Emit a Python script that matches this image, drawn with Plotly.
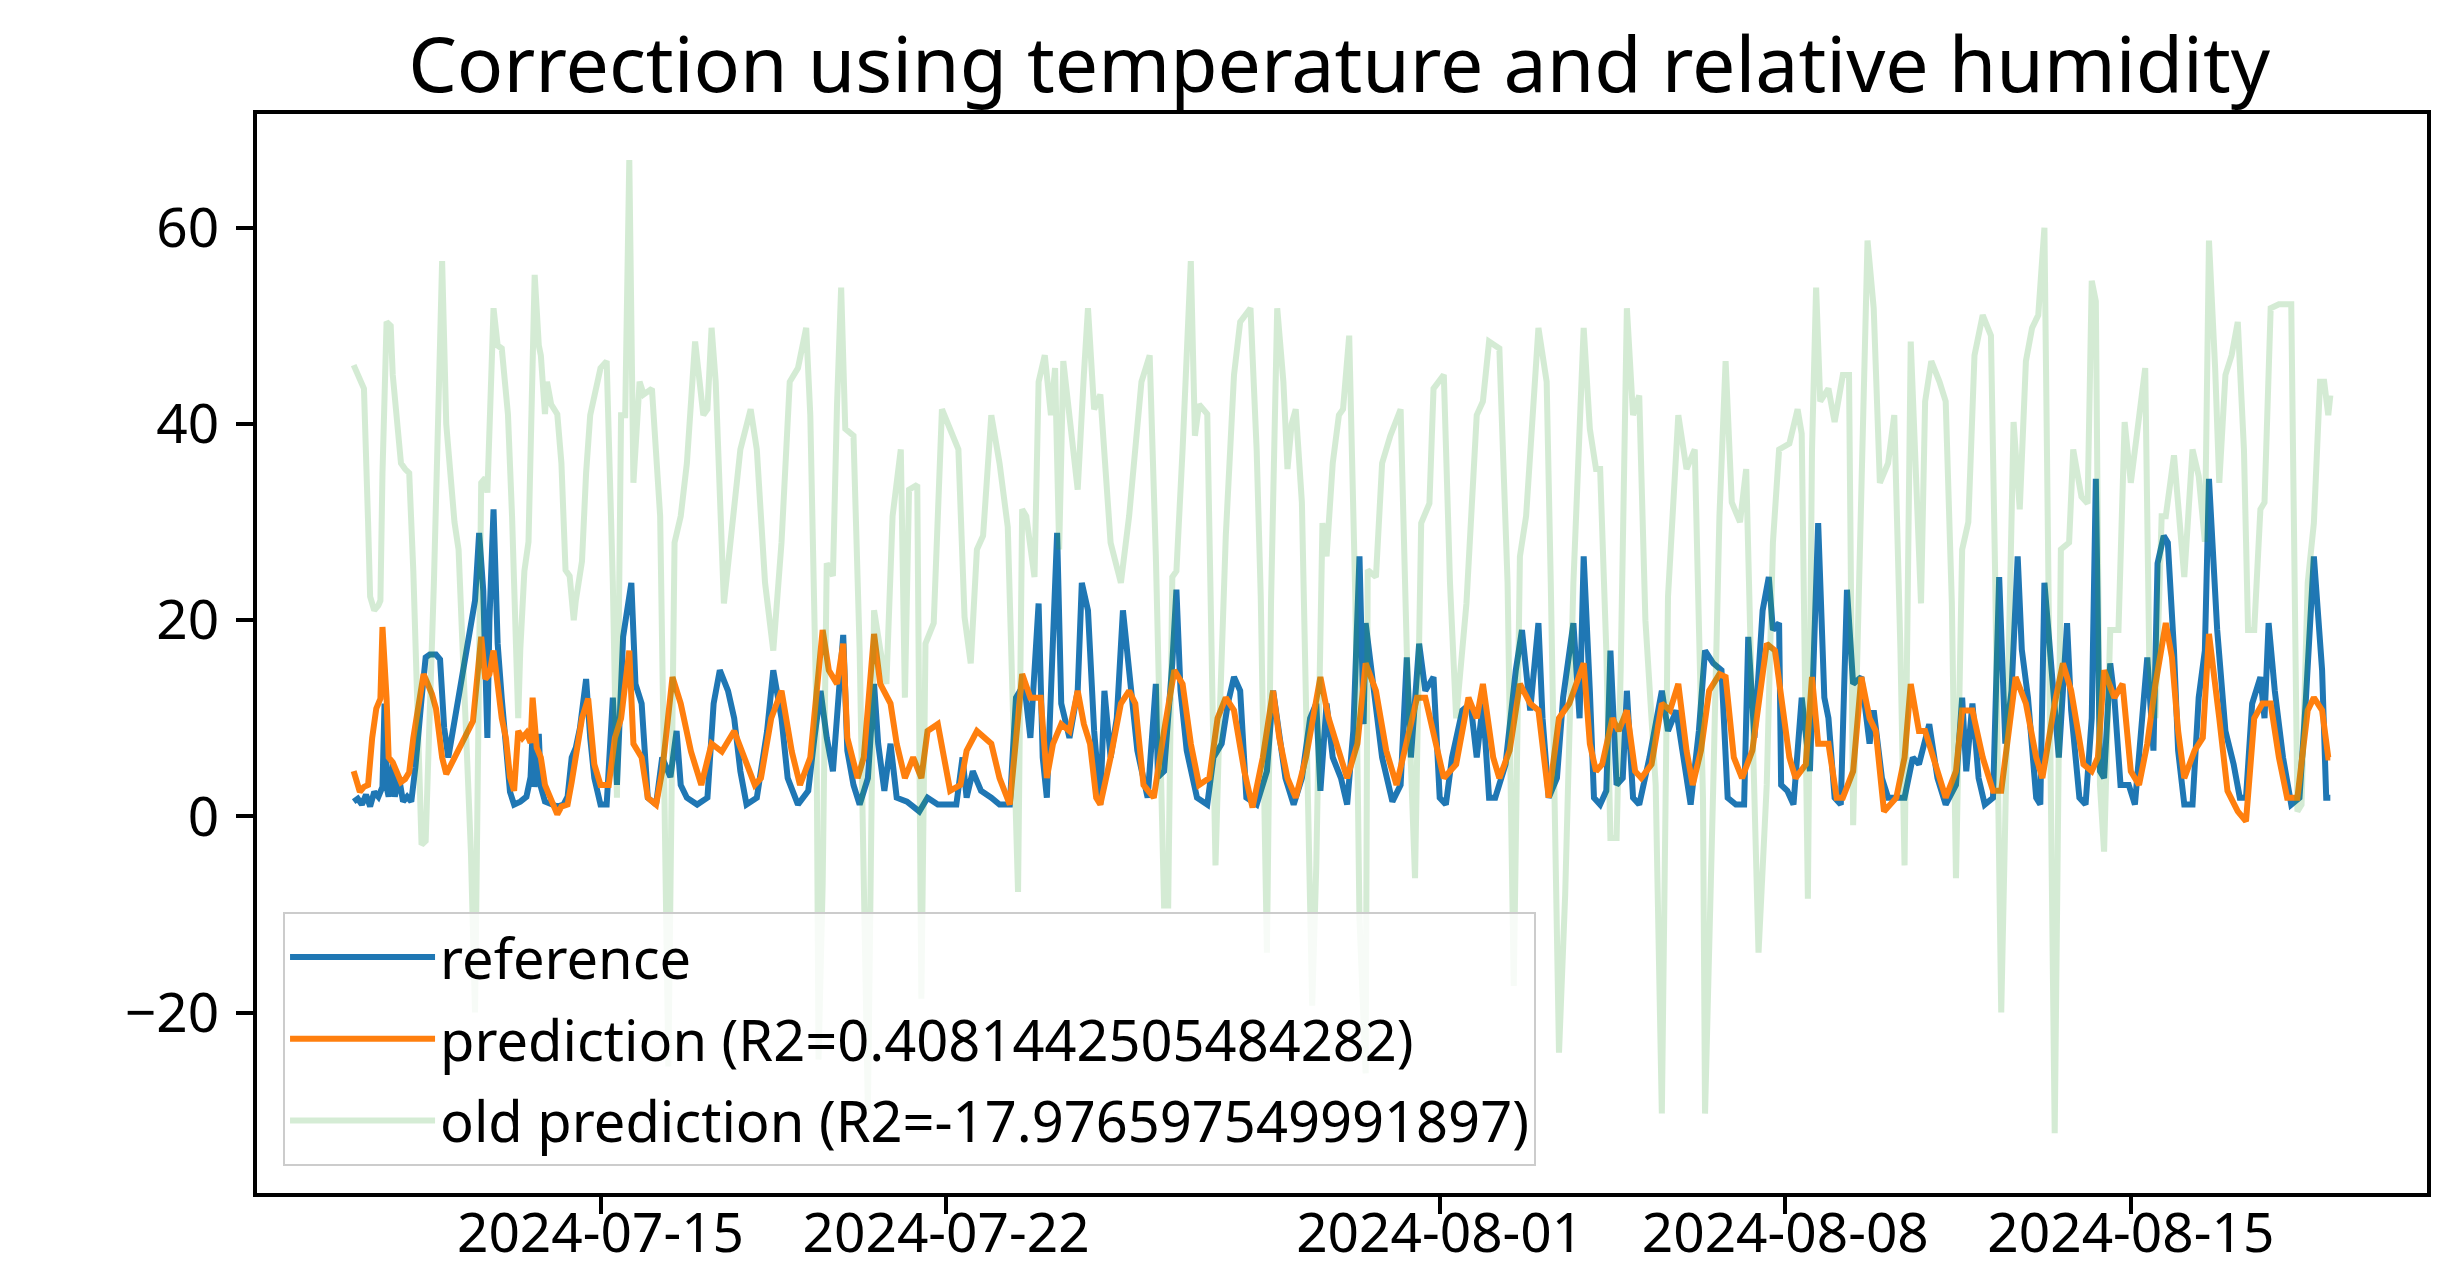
import pandas as pd
import plotly.graph_objects as go

START = "2024-07-10 00:00"

# ---- reference (hours since START, value) ----
ref_hours = [0, 2, 4, 6, 8, 10, 12, 14, 15, 16, 17, 19, 20, 22, 24, 26, 28, 30, 33, 35, 37, 40, 42, 44, 46,
             59, 61, 63, 65, 66, 68, 70, 72, 74, 76, 78, 81, 84, 86, 87, 88, 90, 91, 93, 96, 99, 102, 104, 106,
             108, 110, 113, 115, 117, 120, 123, 126, 128, 131, 135, 137, 140, 143, 147, 150, 154, 157, 159, 162,
             167, 172, 175, 178, 182, 185, 188, 191, 196, 201, 204, 208, 211, 216, 221, 224, 227, 230, 233, 238,
             240, 243, 246, 250, 253, 255, 258, 261, 264, 269, 275, 279, 284, 288, 293, 296, 298, 301, 305, 310,
             314, 319, 322, 326, 329, 333, 335, 337, 339, 342, 344, 348, 352, 354, 357, 360, 363, 365, 368, 371,
             374, 377, 381, 386, 390, 391, 394, 398, 400, 402, 405, 410, 415, 418, 422, 425, 428, 431, 434, 439,
             444, 447, 450, 453, 457, 461, 465, 468, 470, 473, 476, 480, 483, 486, 489, 491, 492, 496, 500, 505,
             509, 512, 514, 518, 521, 525, 528, 531, 534, 539, 543, 546, 549, 552, 555, 560, 565, 568, 572, 576,
             578, 581, 585, 588, 593, 596, 598, 601, 603, 606, 609, 611, 614, 617, 619, 622, 625, 630, 636, 639,
             643, 646, 650, 654, 657, 661, 665, 668, 672, 676, 678, 681, 685, 688, 690, 693, 694, 697, 700, 704,
             708, 712, 715, 717, 720, 723, 726, 729, 733, 737, 739, 743, 746, 750, 754, 758, 761, 766, 770, 774,
             779, 782, 784, 787, 790, 793, 797, 800, 803, 806, 809, 811, 814, 818, 820, 822, 826, 829, 833, 835,
             839, 842, 845, 847, 849, 851, 854, 856, 859, 863, 866, 869, 872, 875, 877, 880, 882, 885, 887, 890,
             894, 897, 900, 902, 906, 910, 914, 917, 920, 923, 927, 929, 931, 934, 938, 942, 946, 949, 953, 957,
             959, 961]
ref_vals = [1.5, 1.8, 1.2, 2.2, 1.0, 2.5, 2.0, 3.0, 11.5, 3.0, 2.0, 5.5, 2.0, 4.0, 1.5, 2.0, 1.5, 5.0, 12.0, 16.2,
            16.5, 16.5, 16.0, 9.0, 6.0,
            22.0, 28.9, 23.0, 8.0, 20.0, 31.3, 17.6, 12.0, 7.4, 2.5, 1.2, 1.5, 2.0, 4.0, 8.5, 3.0, 8.4, 3.0, 1.5,
            1.2, 1.0, 1.2, 2.0, 6.0,
            7.0, 9.0, 14.0, 8.0, 3.9, 1.2, 1.2, 12.1, 3.2, 18.3, 23.8, 13.5, 11.5, 1.9, 1.2, 6.0, 4.0, 8.7, 3.2, 1.9,
            1.2, 1.9, 11.5, 14.9, 12.8, 10.0, 4.6, 1.2, 1.9, 8.7, 14.9, 10.0, 3.9, 1.2, 2.6, 8.0, 12.8, 8.0, 4.6, 18.5,
            6.7, 3.2, 1.2, 3.9, 13.5, 7.4, 2.6, 7.4, 1.9, 1.5, 0.5, 1.9, 1.2, 1.2, 1.2, 6.0, 1.9, 4.6, 2.6, 1.9,
            1.2, 1.2, 12.1, 13.5, 8.0, 21.7, 6.0, 1.9, 11.5, 28.9, 11.5, 8.0, 12.8, 23.8, 21.0, 8.7, 1.2, 12.8, 6.0, 10.0,
            21.0, 14.9, 6.7, 1.9, 13.5, 4.0, 4.6, 15.6, 23.1, 12.8, 6.7, 1.9, 1.2, 6.0, 7.4, 11.5, 14.2, 12.8, 1.9, 1.2,
            4.6, 12.8, 8.0, 3.9, 1.2, 3.9, 10.0, 11.5, 2.6, 11.5, 6.0, 3.9, 1.2, 8.7, 26.5, 9.4, 19.7, 12.8, 6.0, 1.5,
            3.2, 16.2, 6.0, 17.6, 12.8, 14.2, 1.9, 1.2, 6.0, 10.8, 11.5, 6.0, 11.5, 1.9, 1.9, 5.3, 14.9, 19.0, 10.8, 19.7,
            10.0, 1.9, 3.9, 12.1, 19.7, 10.0, 26.5, 12.8, 1.9, 1.2, 2.6, 16.9, 3.2, 3.9, 12.8, 1.9, 1.2, 6.0, 12.8, 8.7,
            10.8, 6.7, 1.2, 8.7, 16.9, 15.6, 14.9, 1.9, 1.2, 1.2, 18.3, 8.0, 21.0, 24.4, 19.0, 19.7, 3.2, 2.6, 1.2, 12.1,
            4.6, 29.9, 12.1, 10.0, 1.9, 1.2, 23.1, 13.5, 14.2, 7.4, 10.8, 3.9, 1.9, 1.9, 1.9, 6.0, 5.3, 9.4, 3.9, 1.2,
            3.2, 12.1, 4.6, 11.5, 3.9, 1.2, 1.9, 24.4, 7.4, 12.8, 26.5, 17.0, 12.1, 1.9, 1.2, 23.8, 12.8, 6.0, 19.7, 10.8,
            1.9, 1.2, 10.0, 34.4, 4.6, 3.9, 15.6, 12.1, 3.2, 3.2, 1.2, 9.4, 16.2, 6.7, 25.8, 28.6, 27.9, 16.9, 6.7, 1.2,
            1.2, 12.1, 16.9, 34.4, 19.0, 8.7, 5.3, 1.9, 1.9, 11.5, 14.2, 10.0, 19.7, 12.8, 6.0, 1.2, 1.9, 11.5, 26.5, 14.9,
            1.9, 1.9]

# ---- prediction ----
pred_hours = [0, 2, 3, 5, 7, 9, 11, 13, 14, 16, 17, 19, 21, 23, 25, 27, 29, 32, 34, 36, 38, 40, 43, 45,
              58, 60, 62, 64, 66, 68, 70, 72, 74, 76, 78, 80, 82, 84, 86, 87, 89, 91, 93, 96, 99, 101, 104, 106,
              109, 111, 114, 117, 120, 124, 127, 130, 134, 136, 140, 143, 147, 150, 155, 159, 164, 169, 174, 179,
              185, 190, 195, 198, 203, 208, 213, 217, 222, 228, 231, 235, 238, 240, 245, 248, 253, 256, 261, 264,
              268, 272, 276, 279, 284, 287, 290, 295, 298, 303, 310, 314, 319, 325, 329, 334, 337, 340, 344, 348,
              352, 355, 358, 361, 363, 368, 373, 377, 380, 384, 389, 394, 399, 403, 407, 411, 416, 420, 424, 428,
              433, 437, 442, 447, 450, 454, 458, 463, 470, 474, 478, 483, 488, 492, 497, 502, 507, 512, 517, 521,
              526, 530, 536, 542, 546, 549, 554, 557, 562, 567, 572, 576, 581, 586, 591, 598, 601, 604, 607, 612,
              615, 619, 623, 626, 631, 636, 640, 644, 648, 651, 655, 659, 664, 667, 671, 675, 680, 687, 691, 695,
              698, 701, 706, 709, 712, 717, 721, 724, 729, 733, 737, 740, 744, 750, 754, 757, 761, 764, 769, 774,
              779, 782, 787, 792, 797, 801, 808, 813, 818, 821, 827, 831, 835, 841, 845, 848, 851, 856, 860, 864,
              868, 872, 876, 881, 884, 887, 890, 895, 899, 902, 907, 911, 916, 920, 924, 928, 932, 936, 940, 945,
              950, 953, 957, 960, 961]
pred_vals = [4.6, 3.0, 2.5, 3.0, 3.2, 8.0, 11.0, 12.0, 19.3, 12.0, 6.0, 5.5, 4.5, 3.5, 3.8, 4.5, 8.0, 12.0, 14.5,
             13.5, 12.5, 11.0, 6.0, 4.3,
             9.7, 14.0, 18.3, 14.0, 14.5, 16.9, 13.5, 10.0, 8.0, 4.0, 2.6, 8.7, 8.0, 8.5, 7.5, 12.1, 7.0, 6.0, 3.2,
             1.5, 0.2, 1.0, 1.2, 3.5,
             8.0, 10.0, 12.0, 5.3, 3.2, 3.2, 8.0, 10.0, 16.9, 7.4, 6.0, 1.9, 1.2, 4.6, 14.2, 11.5, 6.6, 3.2, 7.4, 6.6,
             8.7, 6.0, 3.2, 3.9, 10.0, 12.8, 6.6, 3.2, 6.0, 19.0, 14.9, 13.5, 17.6, 8.0, 3.9, 6.0, 18.6, 13.5, 11.5, 7.4,
             3.9, 6.0, 3.9, 8.7, 9.4, 6.0, 2.6, 3.2, 6.7, 8.7, 7.4, 3.9, 1.2, 14.5, 12.1, 12.1, 3.9, 7.4, 9.4, 8.7,
             12.8, 9.4, 7.4, 1.9, 1.2, 6.0, 11.5, 12.8, 11.5, 3.2, 1.9, 8.7, 14.9, 13.5, 7.4, 3.2, 3.9, 10.0, 12.1, 10.8,
             4.6, 0.9, 6.0, 12.8, 8.0, 3.9, 1.9, 6.0, 14.2, 10.0, 7.4, 3.9, 7.4, 15.6, 12.8, 6.7, 3.2, 7.4, 12.1, 12.1,
             7.4, 3.9, 5.3, 12.1, 10.0, 13.5, 6.0, 3.9, 6.7, 13.5, 11.5, 10.8, 1.9, 10.0, 11.5, 15.6, 7.4, 4.6, 5.3, 10.0,
             8.7, 10.8, 4.6, 3.9, 5.3, 11.5, 10.8, 13.5, 6.7, 3.2, 6.7, 12.8, 14.5, 14.2, 6.0, 3.9, 6.7, 17.6, 16.9, 10.0,
             6.0, 3.9, 5.3, 14.2, 7.4, 7.4, 1.9, 1.9, 4.6, 14.2, 10.0, 8.7, 0.5, 1.9, 6.0, 13.5, 8.7, 8.7, 5.3, 1.9,
             4.6, 10.8, 10.8, 6.0, 2.6, 2.6, 14.2, 11.5, 6.0, 3.9, 11.5, 15.6, 12.8, 5.3, 4.6, 6.0, 14.9, 12.1, 13.5, 4.6,
             3.2, 7.4, 13.5, 19.7, 16.2, 8.7, 3.9, 6.7, 8.0, 18.6, 10.0, 2.6, 0.5, -0.5, 10.0, 11.5, 11.5, 6.0, 1.9, 1.9,
             10.8, 12.1, 10.8, 6.0, 6.0]

# ---- old prediction ----
old_hours = [0, 3, 5, 7, 8, 10, 12, 13, 14, 16, 18, 19, 21, 23, 25, 27, 29, 31, 33, 35, 37, 39, 41, 43, 45, 46,
             49, 51, 54, 57, 59, 60, 62, 64, 65, 68, 70, 72, 74, 75, 77, 80, 81, 83, 85, 88, 90, 91, 93, 94, 96,
             99, 101, 103, 105, 107, 108, 111, 113, 115, 120, 123, 126, 128, 130, 132, 134, 136, 139, 141, 145,
             149, 151, 153, 156, 159, 162, 166, 170, 172, 174, 176, 180, 183, 188, 193, 196, 200, 204, 208, 212,
             216, 220, 222, 225, 226, 228, 230, 233, 235, 237, 239, 243, 246, 248, 250, 252, 253, 256, 259, 262,
             266, 268, 270, 274, 276, 278, 282, 286, 290, 294, 297, 300, 303, 306, 310, 314, 318, 321, 323, 325,
             327, 331, 333, 336, 339, 341, 343, 345, 348, 352, 355, 357, 360, 363, 368, 373, 377, 383, 387, 390,
             394, 396, 398, 400, 403, 407, 409, 411, 415, 417, 419, 421, 424, 428, 431, 436, 439, 441, 444, 446,
             449, 452, 454, 456, 458, 461, 463, 466, 468, 471, 473, 476, 479, 481, 484, 487, 489, 492, 493, 497,
             500, 504, 509, 512, 516, 519, 523, 525, 530, 533, 536, 541, 546, 549, 552, 557, 561, 564, 567, 570,
             576, 580, 582, 585, 586, 589, 593, 598, 601, 604, 606, 609, 611, 614, 616, 619, 622, 625, 628, 633,
             636, 639, 642, 644, 648, 652, 656, 657, 661, 664, 667, 670, 674, 677, 680, 683, 687, 690, 693, 698,
             702, 704, 707, 709, 711, 713, 717, 720, 724, 727, 729, 733, 736, 739, 742, 746, 749, 752, 754, 757,
             760, 762, 764, 767, 771, 774, 777, 779, 782, 785, 788, 792, 796, 798, 801, 804, 807, 810, 813, 816,
             819, 822, 824, 827, 830, 834, 836, 840, 843, 845, 847, 849, 851, 854, 858, 861, 864, 868, 871, 873,
             876, 879, 881, 885, 887, 890, 894, 897, 900, 902, 905, 907, 910, 913, 916, 919, 921, 924, 927, 929,
             932, 936, 942, 945, 947, 950, 953, 956, 958, 960, 961]
old_vals = [46.0, 44.5, 43.6, 30.0, 22.4, 21.0, 21.5, 22.0, 35.0, 50.4, 50.0, 45.0, 40.9, 36.0, 35.4, 35.0, 25.0,
            10.0, -2.9, -2.5, 10.0, 23.8, 40.0, 56.6, 40.0, 37.4,
            30.0, 27.2, 12.0, -3.6, -20.0, -5.0, 34.0, 34.5, 33.0, 51.8, 48.0, 47.7, 44.0, 41.0, 30.6, 10.0, 17.0,
            25.0, 28.0, 55.2, 48.0, 47.0, 41.0, 44.3, 42.0,
            41.0, 36.0, 25.1, 24.5, 20.0, 22.0, 26.0, 35.0, 40.9, 45.7, 46.4, 23.8, 1.9, 40.9, 40.9, 66.9, 34.0, 44.3,
            43.0, 43.6,
            30.6, 3.2, -25.5, 27.9, 30.6, 36.0, 48.4, 40.9, 41.5, 49.8, 44.3, 21.7, 27.9, 37.4, 41.5, 37.4, 23.8, 16.9,
            27.9, 44.3,
            45.7, 49.8, 40.9, 10.0, -24.8, -7.0, 25.8, 24.5, 42.0, 53.9, 39.5, 38.8, 16.9, -7.0, -30.0, 5.0, 21.0,
            17.0, 13.5, 30.6,
            37.4, 12.1, 33.3, 33.8, -18.6, 17.6, 19.7, 41.5, 39.5, 37.4, 20.3, 15.6, 27.2, 28.6, 40.9, 36.0, 29.5,
            10.0, -7.7, 31.3,
            30.6, 24.4, 44.3, 47.0, 40.9, 45.7, 27.2, 46.4, 40.9, 33.3, 45.0, 51.8, 41.5, 43.0, 27.9, 23.8, 30.6,
            44.3, 47.0, 26.5,
            -9.1, -9.1, 24.4, 25.0, 37.4, 56.6, 38.8, 42.0, 41.0, 16.9, -5.0, 10.0, 28.6, 45.0, 50.4, 51.8, 37.4,
            22.4, -13.9, 22.0,
            51.8, 44.3, 35.4, 40.0, 41.5, 32.0, 10.0, -19.3, -5.0, 29.9, 26.5, 36.0, 40.9, 41.5, 49.0, 22.0, -10.4,
            -26.2, 25.1, 24.4,
            36.0, 38.8, 41.5, 16.9, -6.3, 29.9, 31.9, 43.6, 45.0, 23.8, 10.0, 21.7, 40.9, 42.3, 48.4, 47.7, 23.8,
            -17.3, 26.5, 30.6,
            49.8, 44.3, 23.8, -9.0, -24.1, -8.0, 23.8, 49.8, 39.5, 35.4, 35.4, 16.9, -2.2, -2.2, 15.0, 51.8, 40.9,
            42.9, 20.0, 3.2,
            -30.3, 22.4, 33.3, 40.9, 35.4, 37.4, 1.9, -30.3, 3.2, 30.6, 46.4, 32.0, 30.0, 35.4, 10.0, -13.9, 3.2,
            27.9, 37.4, 38.0,
            41.5, 39.0, -8.4, 37.4, 53.9, 42.3, 43.6, 40.2, 45.0, 45.0, -0.9, 32.0, 58.7, 51.8, 34.0, 36.0, 40.9,
            16.9, -5.0, 48.4,
            34.0, 21.7, 42.3, 46.4, 44.3, 42.3, 21.7, -6.3, 27.2, 30.0, 47.0, 51.1, 49.0, 25.1, -20.0, 11.5, 40.2,
            31.3, 46.4, 49.8,
            51.1, 60.0, 24.4, -32.3, 27.2, 27.9, 37.4, 32.6, 31.9, 54.6, 52.5, 3.2, -3.6, 19.0, 19.0, 40.2, 34.0,
            40.2, 45.7, 15.6,
            10.0, 30.6, 30.6, 36.8, 32.0, 24.4, 37.4, 34.7, 28.0, 58.7, 45.7, 34.0, 45.0, 47.0, 50.4, 37.4, 19.0,
            19.0, 31.3, 32.0,
            51.8, 52.2, 52.2, 0.5, 1.2, 23.8, 29.9, 44.3, 44.3, 40.9, 42.9]

series_names = ["reference",
                "prediction (R2=0.4081442505484282)",
                "old prediction (R2=-17.976597549991897)"]
xtick_labels = ["2024-07-15", "2024-07-22", "2024-08-01", "2024-08-08", "2024-08-15"]
ytick_values = [-20, 0, 20, 40, 60]
title_text = "Correction using temperature and relative humidity"


def to_time(hours):
    return pd.Timestamp(START) + pd.to_timedelta(hours, unit="h")


LW = 6
fig = go.Figure()
fig.add_trace(go.Scatter(x=to_time(ref_hours), y=ref_vals, mode="lines", name=series_names[0],
                         line=dict(color="#1f77b4", width=LW), legendgroup="a"))
fig.add_trace(go.Scatter(x=to_time(pred_hours), y=pred_vals, mode="lines", name=series_names[1],
                         line=dict(color="#ff7f0e", width=LW), legendgroup="b"))
fig.add_trace(go.Scatter(x=to_time(old_hours), y=old_vals, mode="lines", name=series_names[2],
                         line=dict(color="#2ca02c", width=LW), opacity=0.2, legendgroup="c"))

font_family = "Noto Sans, Open Sans, DejaVu Sans, sans-serif"

# the page body adds an 8px offset, so the figure is sized to fit the window exactly
W, H = 2455, 1265
fig.update_layout(
    width=W, height=H,
    margin=dict(l=249, r=36, t=106, b=80),
    paper_bgcolor="white", plot_bgcolor="white",
    font=dict(family=font_family, size=55, color="black"),
    title=dict(text=title_text, x=0.5422, xanchor="center", y=1 - 57 / H, yanchor="middle",
               yref="container", font=dict(size=77, color="black")),
    showlegend=True,
    legend=dict(x=0.012, y=0.025, xanchor="left", yanchor="bottom",
                bgcolor="rgba(255,255,255,0.8)", bordercolor="#cccccc", borderwidth=2,
                font=dict(size=56), tracegroupgap=6, itemwidth=145, traceorder="grouped"),
)

fig.update_xaxes(
    range=[pd.Timestamp("2024-07-08 01:00"), pd.Timestamp("2024-08-21 00:00")],
    tickvals=[pd.Timestamp(d) for d in xtick_labels], ticktext=xtick_labels,
    tickfont=dict(size=55),
    showgrid=False, zeroline=False, automargin=False,
    showline=True, linecolor="black", linewidth=3.5, mirror=True,
    ticks="outside", ticklen=17, tickwidth=3.5, tickcolor="black",
    ticklabelstandoff=-28,
)
fig.update_yaxes(
    range=[-38.4, 71.6],
    tickvals=ytick_values,
    showgrid=False, zeroline=False, automargin=False,
    showline=True, linecolor="black", linewidth=3.5, mirror=True,
    ticks="outside", ticklen=17, tickwidth=3.5, tickcolor="black",
    ticklabelstandoff=6,
)

fig.write_html("out.html")
